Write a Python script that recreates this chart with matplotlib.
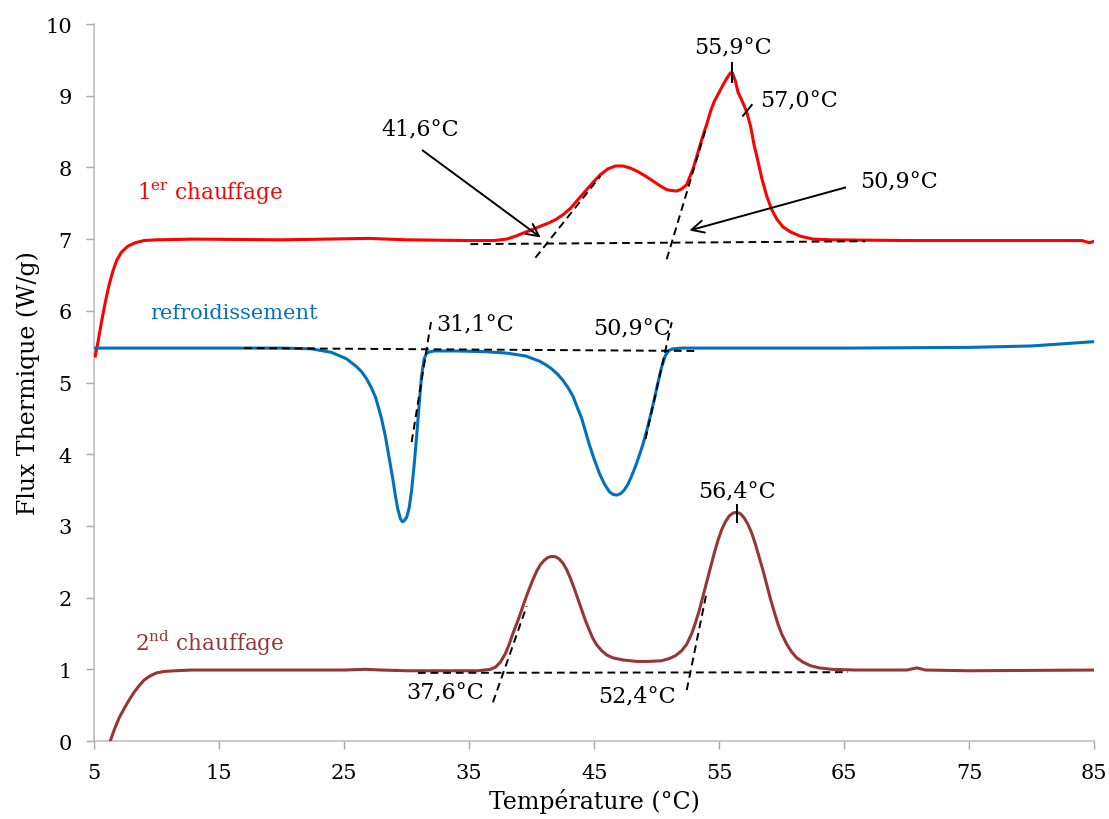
import numpy as np
import matplotlib
matplotlib.use("Agg")
import matplotlib.pyplot as plt

# ---------------- data ----------------
t_heat1 = [5.1, 5.3, 5.6, 5.9, 6.2, 6.5, 6.8, 7.2, 7.7, 8.3, 9.0, 10, 13, 20, 27, 30, 35, 37, 38,
           38.7, 39.4, 40, 40.7, 41.3, 41.9, 42.5, 43.1, 43.7, 44.3, 44.9, 45.5, 46.1, 46.7, 47.3,
           47.9, 48.5, 49.1, 49.7, 50.3, 50.8, 51.1, 51.6, 52.0, 52.4, 52.9, 53.2, 53.5, 53.8, 54.0,
           54.3, 54.6, 55.0, 55.3, 55.6, 55.9, 56.05, 56.3, 56.5, 56.9, 57.2, 57.5, 57.8, 58.0,
           58.4, 58.8, 59.2, 59.6, 60.1, 60.7, 61.5, 62.5, 64, 70, 80, 84, 84.6, 85]
y_heat1 = [5.37, 5.55, 5.85, 6.12, 6.36, 6.55, 6.7, 6.82, 6.9, 6.95, 6.98, 6.99, 7.0, 6.99, 7.01,
           6.99, 6.98, 6.98, 7.0, 7.04, 7.09, 7.13, 7.18, 7.22, 7.27, 7.34, 7.43, 7.55, 7.67, 7.79,
           7.9, 7.98, 8.02, 8.02, 7.99, 7.94, 7.88, 7.81, 7.74, 7.69, 7.68, 7.67, 7.70, 7.76, 7.98,
           8.15, 8.33, 8.5, 8.6, 8.78, 8.92, 9.05, 9.15, 9.24, 9.32, 9.32, 9.2, 9.05, 8.9, 8.77,
           8.58, 8.3, 8.16, 7.85, 7.6, 7.41, 7.28, 7.17, 7.1, 7.04, 7.0, 6.99, 6.98, 6.98, 6.98,
           6.95, 6.97]

t_cool = [5, 10, 15, 20, 22.4, 24, 25.2, 26.0, 26.4, 26.8, 27.2, 27.5, 27.8, 28.0, 28.3, 28.6,
          28.9, 29.1, 29.3, 29.5, 29.65, 29.8, 30.0, 30.2, 30.4, 30.6, 30.8, 31.0, 31.2, 31.4,
          31.6, 31.9, 32.2, 34, 36.3, 38, 39.5, 40.6, 41.2, 41.6, 42.1, 42.5, 42.9, 43.3, 43.7,
          44.0, 44.3, 44.6, 45.0, 45.4, 45.8, 46.2, 46.5, 46.8, 47.1, 47.4, 47.7, 48.0, 48.3,
          48.6, 48.9, 49.2, 49.5, 49.8, 50.1, 50.4, 50.7, 51.0, 51.3, 52, 55, 65, 75, 80, 85]
y_cool = [5.48, 5.48, 5.48, 5.48, 5.47, 5.42, 5.33, 5.22, 5.15, 5.05, 4.92, 4.80, 4.62, 4.49,
          4.25, 3.95, 3.65, 3.42, 3.23, 3.1, 3.06, 3.07, 3.12, 3.25, 3.5, 3.85, 4.25, 4.7, 5.1,
          5.33, 5.41, 5.43, 5.44, 5.44, 5.43, 5.41, 5.37, 5.30, 5.24, 5.19, 5.11, 5.03, 4.93,
          4.81, 4.63, 4.50, 4.32, 4.14, 3.93, 3.74, 3.59, 3.48, 3.44, 3.43, 3.45, 3.50, 3.58,
          3.70, 3.83, 3.98, 4.14, 4.33, 4.54, 4.76, 5.0, 5.22, 5.38, 5.45, 5.47, 5.48, 5.48,
          5.48, 5.49, 5.51, 5.57]

t_heat2 = [6.3, 6.6, 7.0, 7.4, 7.8, 8.2, 8.6, 9.0, 9.5, 10.0, 10.6, 11.5, 12.8, 20, 25, 26.7, 28,
           30, 35.7, 36.7, 37.1, 37.5, 37.9, 38.2, 38.5, 38.9, 39.2, 39.5, 39.8, 40.1, 40.4, 40.7,
           41.0, 41.3, 41.6, 41.9, 42.2, 42.5, 42.8, 43.1, 43.4, 43.7, 44.0, 44.3, 44.6, 44.9,
           45.2, 45.6, 46.0, 46.5, 47.3, 48.4, 49.4, 50.4, 51.0, 51.5, 52.0, 52.4, 52.8, 53.1,
           53.4, 53.7, 54.0, 54.3, 54.6, 54.9, 55.2, 55.5, 55.8, 56.1, 56.4, 56.7, 57.0, 57.3,
           57.6, 57.9, 58.2, 58.5, 58.8, 59.1, 59.4, 59.7, 60.0, 60.4, 60.8, 61.2, 61.7, 62.3,
           63.0, 64, 65.9, 70, 70.8, 71.5, 75, 85]
y_heat2 = [0, 0.15, 0.32, 0.45, 0.57, 0.68, 0.77, 0.85, 0.91, 0.95, 0.97, 0.98, 0.99, 0.99, 0.99,
           1.0, 0.99, 0.98, 0.98, 1.0, 1.03, 1.1, 1.22, 1.35, 1.5, 1.68, 1.83, 1.98, 2.12, 2.25,
           2.37, 2.46, 2.52, 2.56, 2.575, 2.57, 2.54, 2.48, 2.39, 2.27, 2.13, 1.98, 1.83, 1.68,
           1.55, 1.43, 1.34, 1.26, 1.2, 1.16, 1.13, 1.11, 1.11, 1.12, 1.15, 1.19, 1.26, 1.35, 1.5,
           1.65, 1.82, 2.02, 2.22, 2.42, 2.62, 2.8, 2.95, 3.06, 3.14, 3.18, 3.19, 3.17, 3.11,
           3.02, 2.9, 2.74, 2.56, 2.38, 2.18, 1.98, 1.8, 1.63, 1.49, 1.35, 1.24, 1.16, 1.1, 1.05,
           1.02, 1.0, 0.99, 0.99, 1.02, 0.99, 0.98, 0.99]

# construction (tangent / baseline) segments: (T0, y0, T1, y1)
tangents = [
    (35.1, 6.93, 66.7, 6.97),   # baseline 1er chauffage
    (40.3, 6.74, 45.5, 7.88),
    (50.8, 6.72, 54.0, 8.58),
    (17.0, 5.48, 53.1, 5.44),   # baseline refroidissement
    (30.4, 4.17, 32.0, 5.90),
    (49.1, 4.21, 51.2, 5.84),
    (30.9, 0.95, 65.3, 0.96),   # baseline 2nd chauffage
    (36.9, 0.54, 39.6, 1.88),
    (52.4, 0.71, 54.0, 2.08),
]
peak_ticks = [
    (56.0, 9.45, 56.0, 9.19),
    (56.9, 8.72, 57.6, 8.87),
    (56.4, 3.29, 56.4, 3.05),
]

x_ticks = [5, 15, 25, 35, 45, 55, 65, 75, 85]
y_ticks = list(range(0, 11))

RED = "#FF0000"
BLUE = "#0070C0"
BROWN = "#953735"
FONT = "DejaVu Serif"

plt.rcParams["font.family"] = FONT
plt.rcParams["mathtext.fontset"] = "custom"
plt.rcParams["mathtext.rm"] = FONT

fig = plt.figure(figsize=(11.09, 8.20), dpi=100)
ax = fig.add_axes([0.0848, 0.0951, 0.902, 0.8744])

ax.plot(t_heat1, y_heat1, color=RED, lw=2.2, solid_joinstyle="round", zorder=3)
ax.plot(t_cool, y_cool, color=BLUE, lw=2.2, solid_joinstyle="round", zorder=3)
ax.plot(t_heat2, y_heat2, color=BROWN, lw=2.2, solid_joinstyle="round", zorder=3)

for (a, b, c, d) in tangents:
    ax.plot([a, c], [b, d], color="black", lw=1.4, ls=(0, (4, 2.5)), zorder=4)
for (a, b, c, d) in peak_ticks:
    ax.plot([a, c], [b, d], color="black", lw=1.4, zorder=4)

# arrows
arrow_kw = dict(arrowstyle="->", color="black", lw=1.4, mutation_scale=22)
ax.annotate("", xy=(40.9, 7.0), xytext=(31.1, 8.26), arrowprops=arrow_kw, zorder=5)
ax.annotate("", xy=(52.4, 7.11), xytext=(65.3, 7.73), arrowprops=arrow_kw, zorder=5)

fs = 16
ax.text(31.1, 8.54, "41,6°C", ha="center", va="center", fontsize=fs)
ax.text(56.1, 9.68, "55,9°C", ha="center", va="center", fontsize=fs)
ax.text(58.3, 8.93, "57,0°C", ha="left", va="center", fontsize=fs)
ax.text(66.3, 7.81, "50,9°C", ha="left", va="center", fontsize=fs)
ax.text(32.4, 5.82, "31,1°C", ha="left", va="center", fontsize=fs)
ax.text(48.0, 5.76, "50,9°C", ha="center", va="center", fontsize=fs)
ax.text(33.1, 0.68, "37,6°C", ha="center", va="center", fontsize=fs)
ax.text(48.4, 0.63, "52,4°C", ha="center", va="center", fontsize=fs)
ax.text(56.4, 3.49, "56,4°C", ha="center", va="center", fontsize=fs)

ax.text(8.44, 7.66, r"1$^{\mathregular{er}}$ chauffage", color=RED, ha="left", va="center", fontsize=15.5)
ax.text(9.5, 5.97, "refroidissement", color=BLUE, ha="left", va="center", fontsize=15)
ax.text(8.3, 1.38, r"2$^{\mathregular{nd}}$ chauffage", color=BROWN, ha="left", va="center", fontsize=15.5)

ax.set_xlim(5, 85)
ax.set_ylim(0, 10)
ax.set_xticks(x_ticks)
ax.set_yticks(y_ticks)
ax.tick_params(axis="both", colors="#A6A6A6", labelcolor="black", labelsize=15,
               length=6, width=1, direction="out")
ax.tick_params(axis="x", pad=10)
ax.tick_params(axis="y", pad=10)
for s in ("top", "right"):
    ax.spines[s].set_visible(False)
for s in ("left", "bottom"):
    ax.spines[s].set_color("#BFBFBF")
    ax.spines[s].set_linewidth(1.2)

ax.set_xlabel("Température (°C)", fontsize=17, labelpad=4)
ax.set_ylabel("Flux Thermique (W/g)", fontsize=17, labelpad=4)

fig.savefig("out.png", dpi=100)
